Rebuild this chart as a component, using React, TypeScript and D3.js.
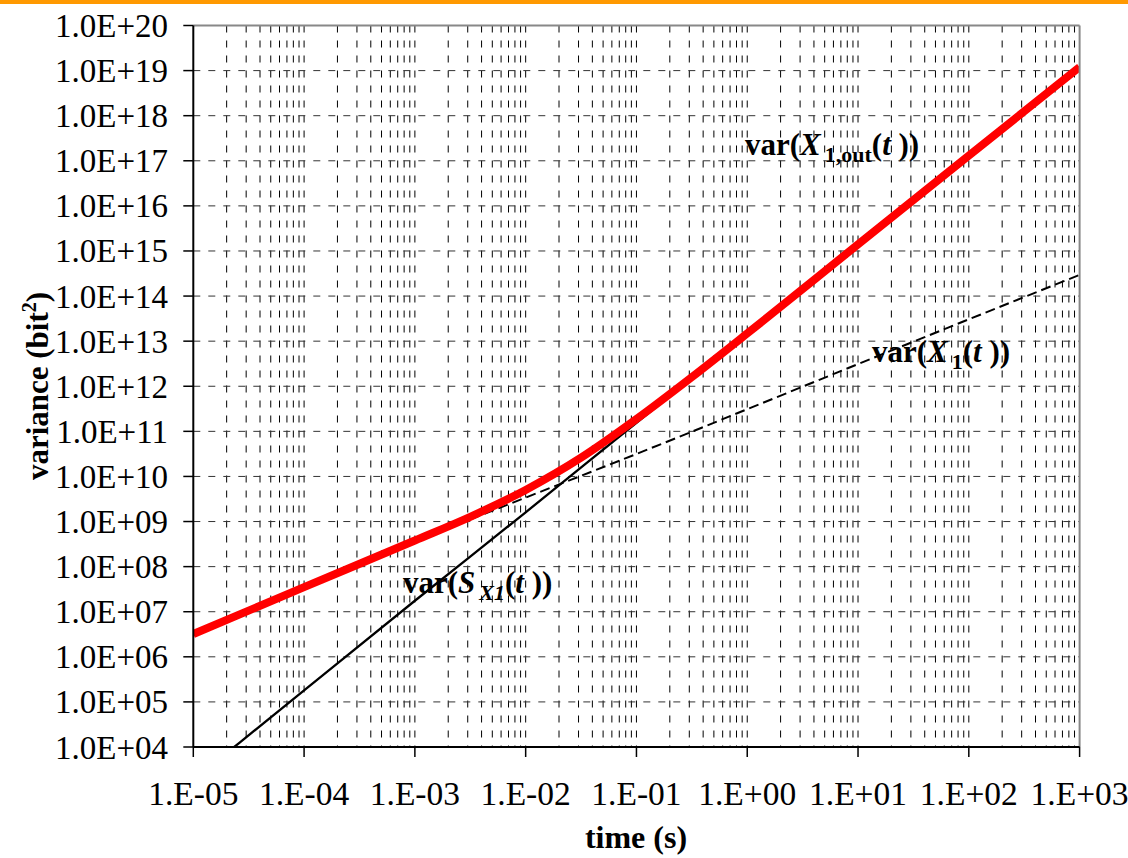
import React from 'react';
import * as d3 from 'd3';

// ---- data ----
const timeTicks = [1e-5, 1e-4, 1e-3, 1e-2, 1e-1, 1e0, 1e1, 1e2, 1e3];
const timeTickLabels = ['1.E-05', '1.E-04', '1.E-03', '1.E-02', '1.E-01', '1.E+00', '1.E+01', '1.E+02', '1.E+03'];
const varTicks = [1e4, 1e5, 1e6, 1e7, 1e8, 1e9, 1e10, 1e11, 1e12, 1e13, 1e14, 1e15, 1e16, 1e17, 1e18, 1e19, 1e20];
const varTickLabels = ['1.0E+04', '1.0E+05', '1.0E+06', '1.0E+07', '1.0E+08', '1.0E+09', '1.0E+10', '1.0E+11', '1.0E+12', '1.0E+13', '1.0E+14', '1.0E+15', '1.0E+16', '1.0E+17', '1.0E+18', '1.0E+19', '1.0E+20'];

// var(X1,out(t)) - red thick curve
const outTime = [1e-5, 1e-4, 1e-3, 3.16e-3, 1e-2, 3.16e-2, 1e-1, 3.16e-1, 1, 10, 100, 1000];
const outVar = [3.2e6, 3.5e7, 3.8e8, 1.27e9, 5.0e9, 2.6e10, 1.87e11, 1.59e12, 1.48e13, 1.4e15, 1.3e17, 1.2e19];

// var(X1(t)) - dashed line
const x1Time = [1e-5, 1e-4, 1e-3, 1e-2, 1e-1, 1, 10, 100, 1000];
const x1Var = [3.2e6, 3.5e7, 3.6e8, 3.4e9, 3.15e10, 3.1e11, 3.1e12, 3.05e13, 2.95e14];

// var(S_X1(t)) - thin solid line
const sTime = [2.34e-5, 1e-4, 1e-3, 1e-2, 1e-1, 1, 10, 100, 1000];
const sVar = [1.0e4, 1.8e5, 1.75e7, 1.6e9, 1.55e11, 1.45e13, 1.4e15, 1.3e17, 1.2e19];

const W = 1128;
const H = 858;
const L = 193.3, R = 1079.6, T = 25.5, B = 747;

export default function App() {
  const x = d3.scaleLog().domain([1e-5, 1e3]).range([L, R]);
  const y = d3.scaleLog().domain([1e4, 1e20]).range([B, T]);

  const mk = (ts: number[], vs: number[]) =>
    d3.line<number>()
      .x((_, i) => x(ts[i]))
      .y((v) => y(v))
      .curve(d3.curveMonotoneX)(vs) || '';

  const minorX: number[] = [];
  for (let k = -5; k < 3; k++) {
    for (let m = 2; m <= 9; m++) minorX.push(m * Math.pow(10, k));
    if (k > -5) minorX.push(Math.pow(10, k));
  }

  const font = "'Liberation Serif', 'Times New Roman', serif";

  return (
    <svg width={W} height={H} style={{ position: 'absolute', left: 0, top: 0, background: '#fff' }} fontFamily={font}>
      <defs>
        <clipPath id="plot">
          <rect x={L} y={T} width={R - L} height={B - T} />
        </clipPath>
      </defs>
      <rect x={0} y={0} width={W} height={4} fill="#FF9900" />

      {/* vertical grid */}
      {minorX.map((v, i) => (
        <line key={'vx' + i} x1={x(v)} x2={x(v)} y1={T} y2={B} stroke="#000" strokeWidth={1} strokeDasharray="7,8" />
      ))}
      {/* horizontal grid */}
      {varTicks.slice(1, -1).map((v, i) => (
        <line key={'hy' + i} x1={L} x2={R} y1={y(v)} y2={y(v)} stroke="#333" strokeWidth={1} strokeDasharray="7,8" />
      ))}

      <g clipPath="url(#plot)">
        <path d={mk(x1Time, x1Var)} fill="none" stroke="#000" strokeWidth={2} strokeDasharray="10,5" />
        <path d={mk(sTime, sVar)} fill="none" stroke="#000" strokeWidth={2.3} />
        <path d={mk(outTime, outVar)} fill="none" stroke="#FF0000" strokeWidth={8} />
      </g>

      {/* borders */}
      <line x1={L} x2={R} y1={T} y2={T} stroke="#888" strokeWidth={2} />
      <line x1={R} x2={R} y1={T} y2={B} stroke="#888" strokeWidth={2} />
      <line x1={L} x2={L} y1={T} y2={B} stroke="#000" strokeWidth={2} />
      <line x1={L} x2={R} y1={B} y2={B} stroke="#000" strokeWidth={2} />

      {/* y ticks */}
      {varTicks.map((v, i) => (
        <g key={'yt' + i}>
          <line x1={L - 10} x2={L} y1={y(v)} y2={y(v)} stroke="#000" strokeWidth={1.5} />
          <text x={168} y={y(v) + 11.5} textAnchor="end" fontSize={33} fill="#000">{varTickLabels[i]}</text>
        </g>
      ))}
      {/* x ticks */}
      {timeTicks.map((v, i) => (
        <g key={'xt' + i}>
          <line x1={x(v)} x2={x(v)} y1={B} y2={B + 10} stroke="#000" strokeWidth={1.5} />
          <text x={x(v)} y={805} textAnchor="middle" fontSize={33.5} fill="#000">{timeTickLabels[i]}</text>
        </g>
      ))}

      <text x={636} y={848} textAnchor="middle" fontSize={32} fontWeight="bold">time (s)</text>
      <text transform="translate(48,386) rotate(-90)" textAnchor="middle" fontSize={31} fontWeight="bold">
        variance (bit<tspan dy={-12} fontSize={20}>2</tspan><tspan dy={12}>)</tspan>
      </text>

      {/* annotations */}
      <text x={745} y={155} fontSize={31} fontWeight="bold">
        var(<tspan fontStyle="italic">X</tspan>
        <tspan dx={4} dy={7} fontSize={22}>1,out</tspan>
        <tspan dy={-7}>(</tspan><tspan fontStyle="italic">t</tspan> ))
      </text>
      <text x={872} y={362} fontSize={31} fontWeight="bold">
        var(<tspan fontStyle="italic">X</tspan>
        <tspan dx={4} dy={7} fontSize={22}>1</tspan>
        <tspan dy={-7}>(</tspan><tspan fontStyle="italic">t</tspan> ))
      </text>
      <text x={403} y={593} fontSize={31} fontWeight="bold">
        var(<tspan fontStyle="italic">S</tspan>
        <tspan dx={4} dy={7} fontSize={22} fontStyle="italic">X1</tspan>
        <tspan dy={-7}>(</tspan><tspan fontStyle="italic">t</tspan> ))
      </text>
    </svg>
  );
}
